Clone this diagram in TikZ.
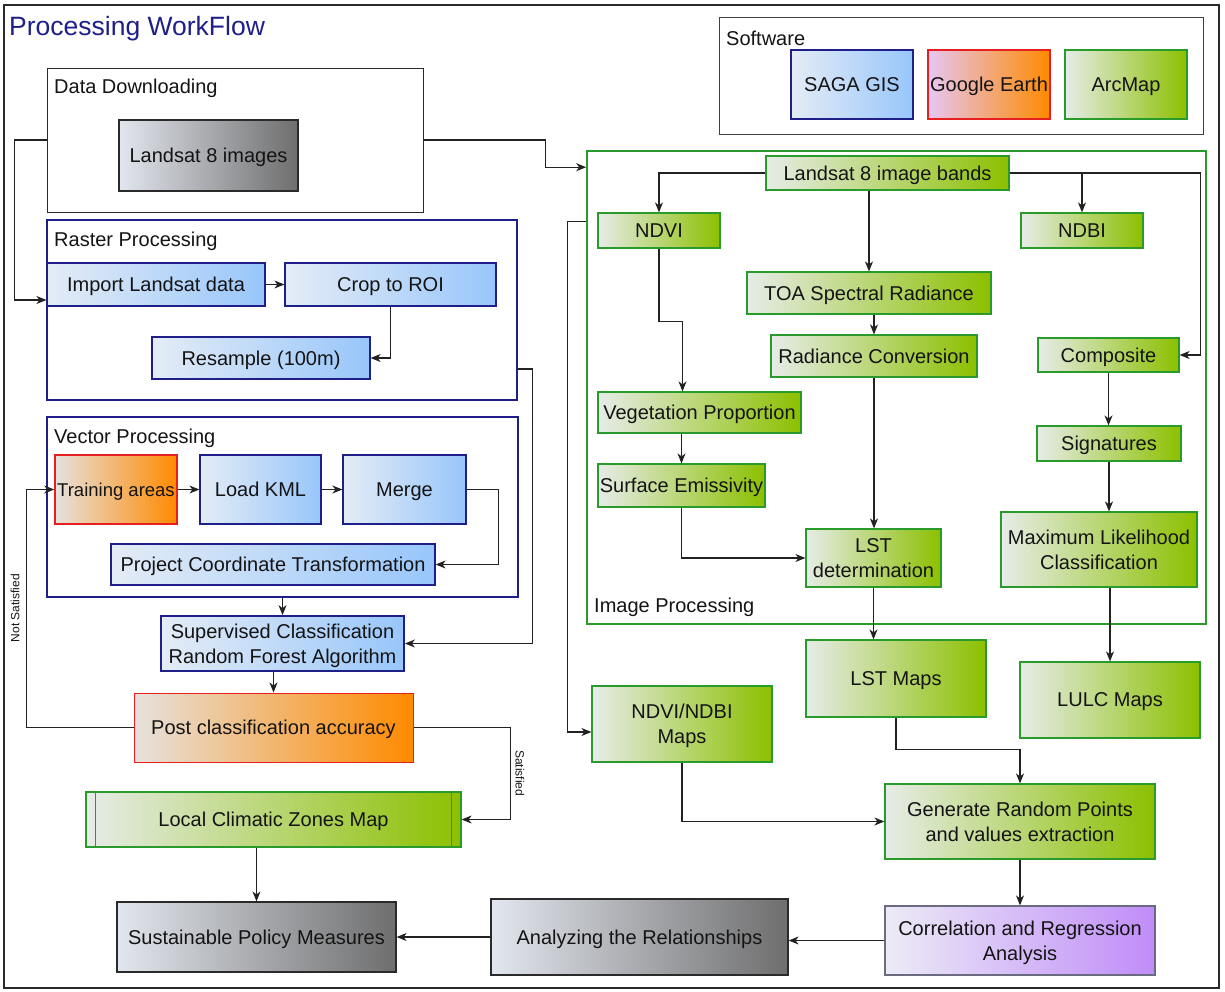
\documentclass[tikz,border=0pt]{standalone}
\usepackage{fontspec}
\setmainfont{Liberation Sans}
\usetikzlibrary{arrows.meta}

\definecolor{navyline}{HTML}{1F1F8A}
\definecolor{greenline}{HTML}{2A9A2A}
\definecolor{redline}{HTML}{E62020}
\definecolor{grayline}{HTML}{2A2A2A}
\definecolor{purpleline}{HTML}{6A6A80}
\definecolor{linec}{HTML}{222222}
\definecolor{blueL}{HTML}{E4ECF6}
\definecolor{blueR}{HTML}{98C6FB}
\definecolor{greenL}{HTML}{E6ECE8}
\definecolor{greenR}{HTML}{8CC000}
\definecolor{orangeL}{HTML}{E6E2DE}
\definecolor{orangeR}{HTML}{FF8A00}
\definecolor{grayL}{HTML}{E2E6EE}
\definecolor{grayR}{HTML}{6E6E6E}
\definecolor{purpleL}{HTML}{ECEBF6}
\definecolor{purpleR}{HTML}{C08CF8}
\definecolor{pinkL}{HTML}{E6C6F2}

\begin{document}
\begin{tikzpicture}[x=1pt,y=-1pt,
    every node/.style={font=\fontsize{20}{25}\selectfont, inner sep=0pt, text=black!92},
    box/.style={draw, line width=1.2pt, align=center, inner sep=1pt, text depth=0pt},
    bluebox/.style={box, draw=navyline, left color=blueL, right color=blueR},
    greenbox/.style={box, draw=greenline, left color=greenL, right color=greenR},
    orangebox/.style={box, draw=redline, left color=orangeL, right color=orangeR},
    graybox/.style={box, draw=grayline, left color=grayL, right color=grayR},
    purplebox/.style={box, draw=purpleline, left color=purpleL, right color=purpleR},
    groupbox/.style={draw, line width=1.6pt},
    grouplbl/.style={anchor=west},
    arr/.style={-{Stealth[length=10pt,width=8pt,inset=3pt]}, line width=1.1pt, draw=linec},
    smalllbl/.style={font=\fontsize{12}{14}\selectfont}
  ]
  \useasboundingbox (0,0) rectangle (1225,991);
  \draw[line width=1.5pt, draw=grayline] (4,5) rectangle (1219,988);
  \node[anchor=west, font=\fontsize{26.5}{30}\selectfont, text=navyline] (title) at (9,29) {Processing WorkFlow};

  % software
  \node[groupbox, line width=1pt, draw=black!75, minimum width=484, minimum height=117] (soft) at (961,75.5) {};
  \node[grouplbl] (softlbl) at (726,38) {Software};
  \node[bluebox, minimum width=122, minimum height=69] (saga) at (852,84.5) {SAGA GIS};
  \node[box, draw=redline, left color=pinkL, right color=orangeR, minimum width=122, minimum height=69] (gearth) at (989,84.5) {Google Earth};
  \node[greenbox, minimum width=122, minimum height=69] (arcmap) at (1126,84.5) {ArcMap};

  % groups on the left
  \node[groupbox, line width=1pt, draw=grayline, minimum width=376, minimum height=144] (dl) at (235,140) {};
  \node[grouplbl] (dllbl) at (54,88) {Data Downloading};
  \node[graybox, line width=1.6pt, minimum width=179, minimum height=71] (landsat) at (208.5,155.5) {Landsat 8 images};

  \node[groupbox, draw=navyline, minimum width=470, minimum height=180] (raster) at (282,310) {};
  \node[grouplbl] (rasterlbl) at (54,241) {Raster Processing};
  \node[bluebox, minimum width=218, minimum height=43] (import) at (156,284.5) {Import Landsat data};
  \node[bluebox, minimum width=211, minimum height=43] (crop) at (390.5,284.5) {Crop to ROI};
  \node[bluebox, minimum width=218, minimum height=42] (resample) at (261,358) {Resample (100m)};

  \node[groupbox, draw=navyline, minimum width=471, minimum height=180] (vector) at (282.5,507) {};
  \node[grouplbl] (vectorlbl) at (54,438) {Vector Processing};
  \node[orangebox, line width=1.6pt, font=\fontsize{18.5}{22}\selectfont, minimum width=122, minimum height=69] (training) at (116,489.5) {Training areas};
  \node[bluebox, minimum width=121, minimum height=69] (loadkml) at (260.5,489.5) {Load KML};
  \node[bluebox, minimum width=123, minimum height=69] (merge) at (404.5,489.5) {Merge};
  \node[bluebox, minimum width=324, minimum height=41] (project) at (273,564.5) {Project Coordinate Transformation};

  \node[bluebox, line width=1.8pt, minimum width=243, minimum height=55] (supervised) at (282.5,643.5) {Supervised Classification\\Random Forest Algorithm};
  \node[orangebox, line width=1pt, minimum width=279, minimum height=69] (post) at (273.5,727.5) {Post classification accuracy};
  \node[greenbox, minimum width=375, minimum height=55] (lcz) at (273.5,819.5) {Local Climatic Zones Map};
  \draw[greenline, line width=1.2pt] ([xshift=10]lcz.north west) -- ([xshift=10]lcz.south west);
  \draw[greenline, line width=1.2pt] ([xshift=-10]lcz.north east) -- ([xshift=-10]lcz.south east);
  \node[graybox, minimum width=279, minimum height=70] (sustain) at (256.5,937) {Sustainable Policy Measures};
  \node[graybox, minimum width=297, minimum height=76] (analyzing) at (639.5,937) {Analyzing the Relationships};

  % image processing
  \node[groupbox, draw=greenline, minimum width=619, minimum height=473] (improc) at (896.5,387.5) {};
  \node[grouplbl] (improclbl) at (594,607) {Image Processing};
  \node[greenbox, minimum width=243, minimum height=34] (bands) at (887.5,173) {Landsat 8 image bands};
  \node[greenbox, minimum width=122, minimum height=35] (ndvi) at (659,230.5) {NDVI};
  \node[greenbox, minimum width=122, minimum height=35] (ndbi) at (1082,230.5) {NDBI};
  \node[greenbox, minimum width=244, minimum height=42] (toa) at (869,293) {TOA Spectral Radiance};
  \node[greenbox, minimum width=206, minimum height=42] (radconv) at (874,356) {Radiance Conversion};
  \node[greenbox, minimum width=141, minimum height=34] (composite) at (1108.5,355) {Composite};
  \node[greenbox, minimum width=203, minimum height=41] (vegprop) at (699.5,412.5) {Vegetation Proportion};
  \node[greenbox, minimum width=167, minimum height=43] (surfemis) at (681.5,485.5) {Surface Emissivity};
  \node[greenbox, minimum width=144, minimum height=35] (signatures) at (1109,443.5) {Signatures};
  \node[greenbox, minimum width=135, minimum height=58] (lstdet) at (873.5,558) {LST\\determination};
  \node[greenbox, minimum width=196, minimum height=75] (maxlike) at (1099,549.5) {Maximum Likelihood\\Classification};

  % maps and analysis
  \node[greenbox, minimum width=180, minimum height=76] (ndvimaps) at (682,724) {NDVI/NDBI\\Maps};
  \node[greenbox, minimum width=180, minimum height=77] (lstmaps) at (896,678.5) {LST Maps};
  \node[greenbox, minimum width=180, minimum height=76] (lulc) at (1110,700) {LULC Maps};
  \node[greenbox, minimum width=270, minimum height=75] (generate) at (1020,821.5) {Generate Random Points\\and values extraction};
  \node[purplebox, minimum width=270, minimum height=69] (correl) at (1020,940.5) {Correlation and Regression\\Analysis};

  % connectors
  \draw[arr] (dl.west) -- ++(-32,0) |- ([yshift=-15.5]import.west);
  \draw[arr] (dl.east) -- ++(122,0) |- ([yshift=-17]improc.north west);
  \draw[arr] (import.east) -- (crop.west);
  \draw[arr] (crop.south) |- (resample.east);
  \draw[arr] ([yshift=-59]raster.east) -- ++(15,0) |- (supervised.east);
  \draw[arr] (training.east) -- (loadkml.west);
  \draw[arr] (loadkml.east) -- (merge.west);
  \draw[arr] (merge.east) -- ++(32,0) |- (project.east);
  \draw[arr] (vector.south) -- (supervised.north);
  \draw[arr] (supervised.south -| post.north) -- (post.north);
  \draw[arr] (post.west) -- ++(-107,0) |- (training.west);
  \node[smalllbl, rotate=90] (notsat) at (15,608) {Not Satisfied};
  \draw[arr] (post.east) -- ++(97,0) |- (lcz.east);
  \node[smalllbl, rotate=-90] (sat) at (520,773) {Satisfied};
  \draw[arr] (lcz.south -| sustain.north) -- (sustain.north);
  \draw[arr] (analyzing.west) -- (sustain.east);
  \draw[arr] (correl.west) -- (correl.west -| analyzing.east);
  \draw[arr] (generate.south) -- (correl.north);
  \draw[arr] (ndvimaps.south) |- (generate.west);
  \draw[arr] (lstmaps.south) -- ++(0,32) -| (generate.north);
  \draw[arr] ([yshift=-71]improc.north west) -- ++(-19,0) |- ([yshift=-8]ndvimaps.west);

  \draw[arr] (bands.west) -| (ndvi.north);
  \draw[arr] (bands.south -| toa.north) -- (toa.north);
  \draw[arr] (bands.east) -- ++(191,0) |- (composite.east);
  \draw[arr] (bands.east -| ndbi.north) -- (ndbi.north);
  \draw[arr] (toa.south -| radconv.north) -- (radconv.north);
  \draw[arr] (radconv.south) -- (radconv.south |- lstdet.north);
  \draw[arr] (ndvi.south) -- ++(0,73) -| ([xshift=-17]vegprop.north);
  \draw[arr] (vegprop.south -| surfemis.north) -- (surfemis.north);
  \draw[arr] (surfemis.south) |- (lstdet.west);
  \draw[arr] (composite.south) -- (composite.south |- signatures.north);
  \draw[arr] (signatures.south) -- (signatures.south |- maxlike.north);
  \draw[arr] (lstdet.south) -- (lstdet.south |- lstmaps.north);
  \draw[arr] (maxlike.south -| lulc.north) -- (lulc.north);
\end{tikzpicture}
\end{document}
